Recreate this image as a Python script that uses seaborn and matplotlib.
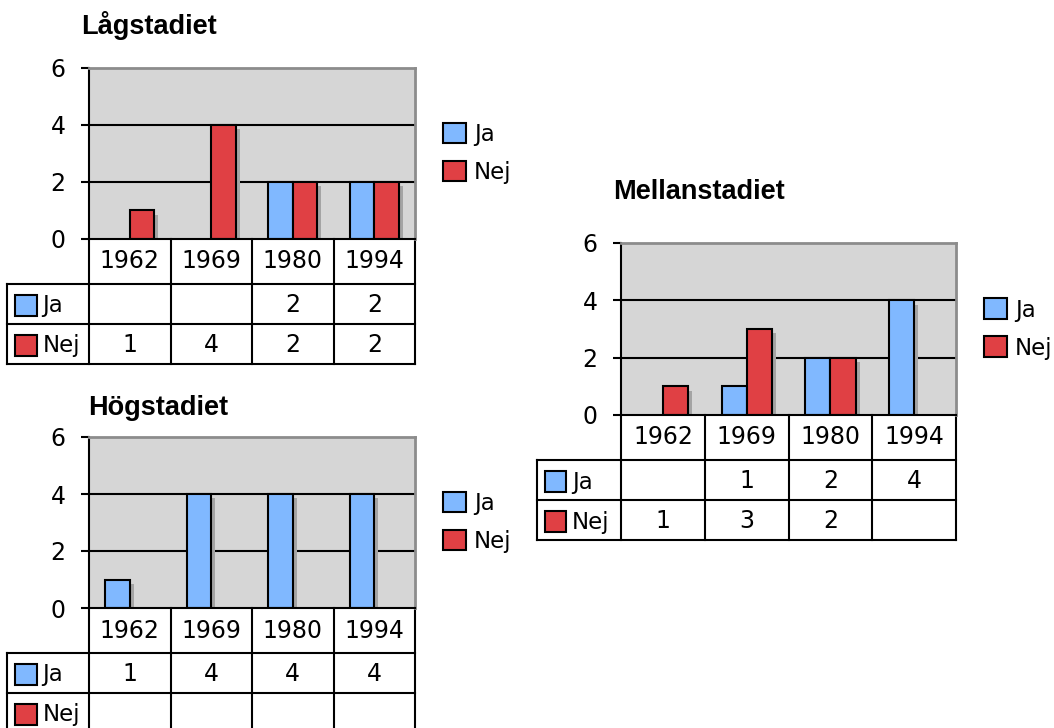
import matplotlib
matplotlib.use("Agg")
import matplotlib.pyplot as plt
import matplotlib.patheffects as pe
from matplotlib.patches import Patch, Rectangle
import pandas as pd
import seaborn as sns

# data
years = ["1962", "1969", "1980", "1994"]
answers = ["Ja", "Nej"]

lag_ja = [None, None, 2, 2]
lag_nej = [1, 4, 2, 2]
mel_ja = [None, 1, 2, 4]
mel_nej = [1, 3, 2, None]
hog_ja = [1, 4, 4, 4]
hog_nej = [None, None, None, None]

colors = {"Ja": "#80b8ff", "Nej": "#e04044"}
bg = "#d6d6d6"

sns.set_style("white")
plt.rcParams["font.family"] = ["DejaVu Sans"]
plt.rcParams["text.color"] = "black"
plt.rcParams["ytick.color"] = "black"
plt.rcParams["ytick.labelcolor"] = "black"

W, H = 1054, 728
fig = plt.figure(figsize=(W / 100, H / 100), dpi=100)


def px_axes(left, top, right, bottom):
    return fig.add_axes([left / W, 1 - bottom / H, (right - left) / W, (bottom - top) / H])


def make_df(ja, nej):
    rows = []
    for svar, vals in zip(answers, [ja, nej]):
        for y, v in zip(years, vals):
            if v is not None:
                rows.append({"year": y, "svar": svar, "antal": v})
    return pd.DataFrame(rows, columns=["year", "svar", "antal"])


def draw_chart(ax, title, ja, nej, title_dx, title_dy):
    df = make_df(ja, nej)
    ax.set_facecolor(bg)
    ax.set_axisbelow(True)
    sns.barplot(data=df, x="year", y="antal", hue="svar", order=years, hue_order=answers,
                palette=colors, saturation=1, width=0.6, dodge=True, edgecolor="black",
                linewidth=1.5, legend=False, ax=ax)
    # soft drop shadow like the old spreadsheet charts
    shadow = [pe.SimplePatchShadow(offset=(3, -3), shadow_rgbFace="#a4a4a4", alpha=1), pe.Normal()]
    for p in ax.patches:
        p.set_path_effects(shadow)

    ax.set_xlim(-0.5, len(years) - 0.5)
    ax.set_ylim(0, 6)
    ax.set_yticks([0, 2, 4, 6])
    ax.yaxis.grid(True, color="black", lw=1.5)
    gl = ax.get_ygridlines()
    gl[0].set_visible(False)
    gl[-1].set_visible(False)
    ax.set_xticks([])
    ax.set_xlabel("")
    ax.set_ylabel("")
    ax.tick_params(axis="y", left=True, length=6, width=1.5, pad=11, labelsize=17,
                   direction="out", color="black", labelcolor="black")
    for s in ["top", "right"]:
        ax.spines[s].set_color("#8c8c8c")
        ax.spines[s].set_linewidth(2)
    for s in ["left", "bottom"]:
        ax.spines[s].set_color("black")
        ax.spines[s].set_linewidth(1.5)

    bb = ax.get_position()
    ax_w = bb.width * W
    ax_h = bb.height * H
    unit = ax_w / len(years)  # pixels per category

    ax.text(title_dx / ax_w, 1 + title_dy / ax_h, title, transform=ax.transAxes,
            fontsize=19.5, fontweight="bold", family="Liberation Sans",
            ha="left", va="baseline", color="black")

    # data table under the plot
    tr = ax.get_xaxis_transform()
    hdr = 45 / ax_h
    row = 40 / ax_h
    x0, x1 = -1.5, len(years) - 0.5
    line_kw = dict(transform=tr, color="black", lw=1.5, clip_on=False, solid_capstyle="projecting")
    bottom = -hdr - 2 * row
    for yy in [-hdr, -hdr - row, bottom]:
        ax.plot([x0, x1], [yy, yy], **line_kw)
    for i in range(len(years) + 1):
        ax.plot([i - 0.5, i - 0.5], [0, bottom], **line_kw)
    ax.plot([x0, x0], [-hdr, bottom], **line_kw)

    for i, y in enumerate(years):
        ax.text(i, -hdr / 2, y, transform=tr, ha="center", va="center", fontsize=17, color="black")
    for r, (svar, vals) in enumerate(zip(answers, [ja, nej])):
        yc = -hdr - row * (r + 0.5)
        ax.add_patch(Rectangle((x0 + 8 / unit, yc - 12 / ax_h), 21 / unit, 21 / ax_h,
                               transform=tr, facecolor=colors[svar], edgecolor="black",
                               lw=1.5, clip_on=False))
        ax.text(x0 + 35 / unit, yc - 2 / ax_h, svar, transform=tr, ha="left", va="center",
                fontsize=16.5, color="black")
        for i, v in enumerate(vals):
            if v is not None:
                ax.text(i, yc - 1 / ax_h, str(v), transform=tr, ha="center", va="center",
                        fontsize=17, color="black")

    handles = [Patch(facecolor=colors[a], edgecolor="black", linewidth=1.5, label=a) for a in answers]
    leg = ax.legend(handles=handles, loc="center left", bbox_to_anchor=(1 + 28 / ax_w, 0.5),
                    frameon=False, fontsize=16.5, handlelength=1.0, handleheight=1.0,
                    handletextpad=0.35, labelspacing=0.65, borderpad=0, borderaxespad=0)
    for t in leg.get_texts():
        t.set_color("black")


ax_lag = px_axes(89, 68, 415, 239)
ax_hog = px_axes(89, 437, 415, 608)
ax_mel = px_axes(621, 243, 956, 415)

draw_chart(ax_lag, "Lågstadiet", lag_ja, lag_nej, -8, 34)
draw_chart(ax_hog, "Högstadiet", hog_ja, hog_nej, -1, 22)
draw_chart(ax_mel, "Mellanstadiet", mel_ja, mel_nej, -8, 44)

fig.savefig("out.png", dpi=100, facecolor="white")
